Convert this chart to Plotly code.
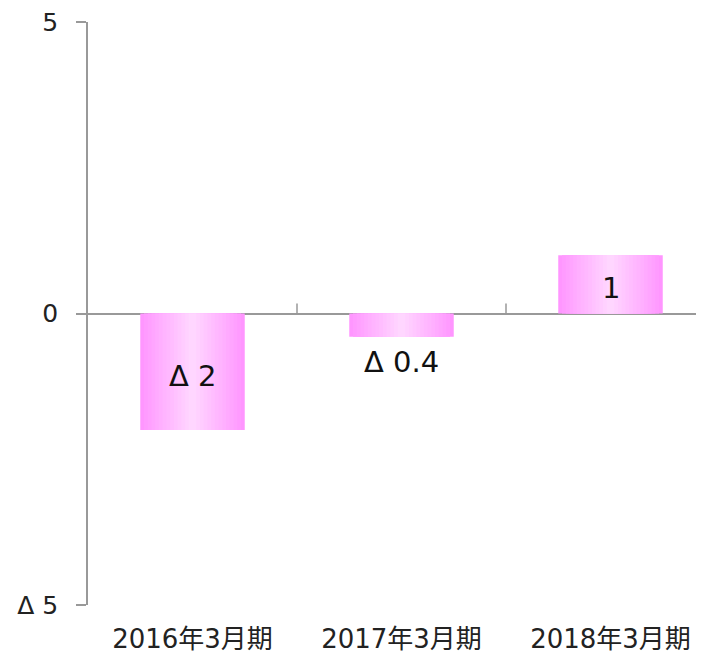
import plotly.graph_objects as go

categories = ["2016年3月期", "2017年3月期", "2018年3月期"]
values = [-2, -0.4, 1]
y_tickvals = [-5, 0, 5]
y_ticktext = ["Δ 5", "0", "5"]


def fmt(v):
    return f"Δ {abs(v):g}" if v < 0 else f"{v:g}"


labels = [fmt(v) for v in values]

FONT = "DejaVu Sans, Noto Sans CJK JP"

fig = go.Figure()

# horizontal gradient simulated by overlaid bars of decreasing width
N = 14
edge = (255, 150, 255)
center = (255, 214, 255)
for k in range(N):
    t = k / (N - 1)
    c = tuple(round(edge[i] + (center[i] - edge[i]) * t) for i in range(3))
    w = 0.5 * (1 - k / N)
    fig.add_trace(go.Bar(
        x=categories, y=values, width=w,
        marker=dict(color=f"rgb{c}", line=dict(width=0)),
        hoverinfo="skip", showlegend=False,
    ))

# labels: inside bars when tall enough, below the small bar
for cat, v, lab in zip(categories, values, labels):
    if abs(v) >= 1:
        fig.add_annotation(x=cat, y=v / 2, text=lab, showarrow=False,
                           yanchor="middle", yshift=-4,
                           font=dict(size=29, color="#111111", family=FONT))
    else:
        fig.add_annotation(x=cat, y=v, text=lab, showarrow=False,
                           yanchor="top", yshift=-6,
                           font=dict(size=29, color="#111111", family=FONT))

# small category separator ticks on the zero line
for xb in [0.5, 1.5]:
    fig.add_shape(type="line", xref="x", yref="y", x0=xb, x1=xb,
                  ysizemode="pixel", yanchor=0, y0=0, y1=10,
                  line=dict(color="#999999", width=1.5))

# page body has an 8px default margin, so the figure is sized/offset for it
fig.update_layout(
    width=696, height=650,
    margin=dict(l=80, r=0, t=14, b=53),
    paper_bgcolor="white", plot_bgcolor="white",
    barmode="overlay",
    font=dict(family=FONT, size=24, color="#222222"),
    xaxis=dict(
        range=[-0.5, -0.5 + 616 / 209],
        showline=False, showgrid=False, zeroline=False,
        ticks="", ticklabelstandoff=16, automargin=False,
        ticklabeloverflow="allow",
        tickfont=dict(size=26, color="#222222", family=FONT),
    ),
    yaxis=dict(
        range=[-5, 5],
        tickvals=y_tickvals, ticktext=y_ticktext,
        showline=True, linecolor="#999999", linewidth=1.5,
        ticks="outside", ticklen=10, tickcolor="#999999", tickwidth=1.5,
        ticklabelstandoff=13, automargin=False,
        ticklabeloverflow="allow",
        showgrid=False,
        zeroline=True, zerolinecolor="#999999", zerolinewidth=1.5,
        tickfont=dict(size=25, color="#222222", family=FONT),
    ),
)

fig.write_html("out.html")
